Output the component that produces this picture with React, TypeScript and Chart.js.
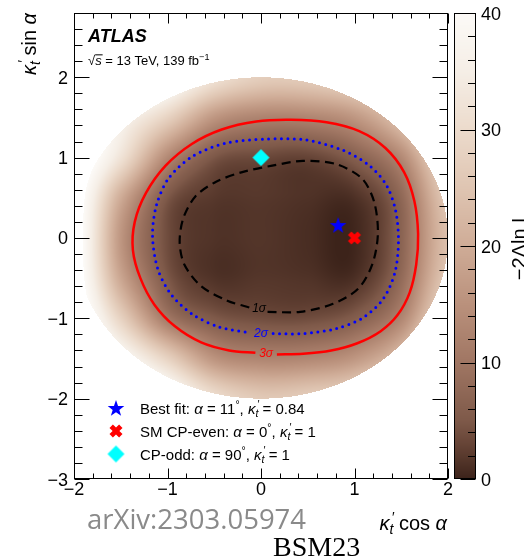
import React, { useEffect, useRef } from "react";
import { Chart, registerables } from "chart.js";

Chart.register(...registerables);

const FONT = '"Liberation Sans", Arial, Helvetica, sans-serif';

// ---- axes ----
const xRange = [-2, 2];
const yRange = [-3, 2.8];
const zRange = [0, 40];
const xTickValues = [-2, -1, 0, 1, 2];
const xTickLabels = ["\u22122", "\u22121", "0", "1", "2"];
const yTickValues = [-3, -2, -1, 0, 1, 2];
const yTickLabels = ["\u22123", "\u22122", "\u22121", "0", "1", "2"];
const zTickValues = [0, 10, 20, 30, 40];
const zTickLabels = ["0", "10", "20", "30", "40"];
const xMinorStep = 0.2;
const yMinorStep = 0.2;
const zMinorStep = 2;

// ---- -2 Delta ln L grid ----
const gridX = [-2, -1.5, -1, -0.5, 0, 0.5, 1, 1.5, 2];
const gridY = [2, 1.5, 1, 0.5, 0, -0.5, -1, -1.5, -2];
const nllRowYp20 = [55, 50, 42, 32, 27, 27, 30, 35, 55];
const nllRowYp15 = [50, 38, 28, 16, 12.5, 12.8, 16, 26, 45];
const nllRowYp10 = [46, 32, 13.5, 4.8, 3.4, 2.9, 6.0, 13.5, 32];
const nllRowYp05 = [44, 20, 5.0, 1.9, 1.8, 1.3, 1.2, 7.5, 26];
const nllRowY00 = [44, 16, 3.8, 1.4, 1.6, 0.9, 0.3, 6.8, 24];
const nllRowYm05 = [44, 19, 5.0, 1.4, 1.7, 1.4, 1.1, 8.0, 26];
const nllRowYm10 = [46, 28, 10.5, 5.2, 3.9, 3.8, 5.8, 13, 32];
const nllRowYm15 = [50, 40, 28, 15.5, 12.8, 13.2, 16, 25, 45];
const nllRowYm20 = [55, 50, 42, 31, 26, 27, 30, 40, 55];
const kappaMax = 2;

// ---- colour palette ----
const paletteValues = [0, 2.5, 5, 10, 15, 20, 25, 30, 35, 40];
const paletteColors = [
  [60, 35, 26], [96, 63, 50], [126, 89, 73], [160, 118, 99], [186, 145, 124],
  [207, 172, 151], [223, 197, 178], [236, 219, 204], [245, 238, 230], [252, 250, 247],
];

// ---- contours (x, y) ----
const contour1Sigma = [
  [0.07, -0.92], [0.42, -0.92], [0.77, -0.82], [1.04, -0.63], [1.19, -0.33], [1.25, 0.05],
  [1.21, 0.45], [1.08, 0.74], [0.8, 0.92], [0.45, 0.96], [0.12, 0.9], [-0.2, 0.82],
  [-0.48, 0.7], [-0.7, 0.52], [-0.83, 0.25], [-0.87, -0.05], [-0.82, -0.33],
  [-0.64, -0.6], [-0.36, -0.78], [-0.11, -0.87],
];
const contour2Sigma = [
  [0.13, -1.19], [0.45, -1.19], [0.8, -1.13], [1.08, -1.0], [1.3, -0.77], [1.43, -0.44],
  [1.47, -0.05], [1.44, 0.34], [1.34, 0.66], [1.16, 0.9], [0.88, 1.09], [0.48, 1.22],
  [0.05, 1.23], [-0.38, 1.18], [-0.74, 1.01], [-0.99, 0.74], [-1.12, 0.4], [-1.16, 0.02],
  [-1.1, -0.4], [-0.95, -0.72], [-0.72, -0.96], [-0.44, -1.11], [-0.13, -1.18],
];
const contour3Sigma = [
  [0.17, -1.45], [0.45, -1.44], [0.75, -1.4], [1.03, -1.31], [1.28, -1.16], [1.46, -0.96],
  [1.59, -0.68], [1.66, -0.33], [1.68, 0.05], [1.64, 0.46], [1.53, 0.82], [1.33, 1.12],
  [1.05, 1.33], [0.7, 1.44], [0.32, 1.47], [-0.05, 1.45], [-0.42, 1.35], [-0.74, 1.17],
  [-1.02, 0.9], [-1.23, 0.56], [-1.35, 0.2], [-1.37, -0.15], [-1.29, -0.5], [-1.14, -0.83],
  [-0.92, -1.1], [-0.64, -1.3], [-0.34, -1.4], [-0.06, -1.43],
];
const contourLabels = ["1\u03c3", "2\u03c3", "3\u03c3"];
const contourLabelX = [-0.02, 0.0, 0.055];
const contourLabelY = [-0.885, -1.19, -1.445];

// ---- points ----
const bestFitPoint = { x: 0.825, y: 0.16 };
const smEvenPoint = { x: 1, y: 0 };
const cpOddPoint = { x: 0, y: 1 };

type Seg = { t: string; it?: boolean; b?: boolean; sub?: boolean; sup?: boolean; noAdv?: boolean; over?: boolean; dx?: number };

const legendRows: Seg[][] = [
  [{ t: "Best fit: " }, { t: "\u03b1", it: true }, { t: " = 11" }, { t: "\u00b0", sup: true }, { t: ", " }, { t: "\u03ba", it: true }, { t: "\u2032", sup: true, noAdv: true, dx: 2 }, { t: "t", sub: true, it: true }, { t: " = 0.84" }],
  [{ t: "SM CP-even: " }, { t: "\u03b1", it: true }, { t: " = 0" }, { t: "\u00b0", sup: true }, { t: ", " }, { t: "\u03ba", it: true }, { t: "\u2032", sup: true, noAdv: true, dx: 2 }, { t: "t", sub: true, it: true }, { t: " = 1" }],
  [{ t: "CP-odd: " }, { t: "\u03b1", it: true }, { t: " = 90" }, { t: "\u00b0", sup: true }, { t: ", " }, { t: "\u03ba", it: true }, { t: "\u2032", sup: true, noAdv: true, dx: 2 }, { t: "t", sub: true, it: true }, { t: " = 1" }],
];

function segFont(s: Seg, size: number) {
  const sz = s.sub || s.sup ? size * 0.7 : size;
  return `${s.it ? "italic " : ""}${s.b ? "bold " : ""}${sz}px ${FONT}`;
}
function drawRich(ctx: CanvasRenderingContext2D, segs: Seg[], x: number, y: number, size: number, color: string, align: string) {
  let w = 0;
  for (const s of segs) {
    ctx.font = segFont(s, size);
    if (!s.noAdv) w += ctx.measureText(s.t).width;
  }
  let cx = align === "left" ? x : align === "right" ? x - w : x - w / 2;
  ctx.fillStyle = color;
  ctx.textAlign = "left";
  ctx.textBaseline = "alphabetic";
  for (const s of segs) {
    ctx.font = segFont(s, size);
    const dy = s.sub ? size * 0.22 : s.sup ? -size * 0.4 : 0;
    const sw = ctx.measureText(s.t).width;
    ctx.fillText(s.t, cx + (s.dx || 0), y + dy);
    if (s.over) ctx.fillRect(cx, y - size * 0.82, sw + 1, 1);
    if (!s.noAdv) cx += sw;
  }
}

function paletteColor(v: number) {
  if (v <= paletteValues[0]) return paletteColors[0];
  for (let i = 1; i < paletteValues.length; i++) {
    if (v <= paletteValues[i]) {
      const t = (v - paletteValues[i - 1]) / (paletteValues[i] - paletteValues[i - 1]);
      const a = paletteColors[i - 1], b = paletteColors[i];
      return [a[0] + (b[0] - a[0]) * t, a[1] + (b[1] - a[1]) * t, a[2] + (b[2] - a[2]) * t];
    }
  }
  return paletteColors[paletteColors.length - 1];
}

function cr(p0: number, p1: number, p2: number, p3: number, t: number) {
  return 0.5 * (2 * p1 + (-p0 + p2) * t + (2 * p0 - 5 * p1 + 4 * p2 - p3) * t * t + (-p0 + 3 * p1 - 3 * p2 + p3) * t * t * t);
}

function makeStar(R: number, r: number, color: string) {
  const c = document.createElement("canvas");
  const s = Math.ceil(2 * R + 2);
  c.width = s; c.height = s;
  const g = c.getContext("2d")!;
  g.translate(s / 2, s / 2 + 0.8);
  g.beginPath();
  for (let i = 0; i < 10; i++) {
    const rad = i % 2 === 0 ? R : r;
    const ang = -Math.PI / 2 + (i * Math.PI) / 5;
    const px = rad * Math.cos(ang), py = rad * Math.sin(ang);
    if (i === 0) g.moveTo(px, py); else g.lineTo(px, py);
  }
  g.closePath();
  g.fillStyle = color;
  g.fill();
  return c;
}
function makeX(L: number, hw: number, color: string) {
  const c = document.createElement("canvas");
  const s = Math.ceil(2 * L + 4);
  c.width = s; c.height = s;
  const g = c.getContext("2d")!;
  g.translate(s / 2, s / 2);
  g.rotate(Math.PI / 4);
  g.beginPath();
  const pts = [[-hw, -L], [hw, -L], [hw, -hw], [L, -hw], [L, hw], [hw, hw], [hw, L], [-hw, L], [-hw, hw], [-L, hw], [-L, -hw], [-hw, -hw]];
  pts.forEach(([px, py], i) => (i === 0 ? g.moveTo(px, py) : g.lineTo(px, py)));
  g.closePath();
  g.fillStyle = color;
  g.fill();
  return c;
}
function makeDiamond(h: number, color: string) {
  const c = document.createElement("canvas");
  const s = Math.ceil(2 * h + 2);
  c.width = s; c.height = s;
  const g = c.getContext("2d")!;
  g.translate(s / 2, s / 2);
  g.beginPath();
  g.moveTo(0, -h); g.lineTo(h, 0); g.lineTo(0, h); g.lineTo(-h, 0);
  g.closePath();
  g.fillStyle = color;
  g.fill();
  return c;
}

export default function App() {
  const ref = useRef<HTMLCanvasElement | null>(null);

  useEffect(() => {
    document.body.style.margin = "0";
    const canvas = ref.current;
    if (!canvas) return;

    const nllGrid = [nllRowYp20, nllRowYp15, nllRowYp10, nllRowYp05, nllRowY00, nllRowYm05, nllRowYm10, nllRowYm15, nllRowYm20];
    const nx = gridX.length, ny = gridY.length;
    const clampI = (k: number, n: number) => Math.max(0, Math.min(n - 1, k));
    const sample = (X: number, Y: number) => {
      const fx = (X - gridX[0]) / (gridX[1] - gridX[0]);
      const fy = (Y - gridY[0]) / (gridY[1] - gridY[0]);
      const ix = Math.floor(fx), iy = Math.floor(fy);
      const tx = fx - ix, ty = fy - iy;
      const rows: number[] = [];
      for (let m = -1; m <= 2; m++) {
        const r = nllGrid[clampI(iy + m, ny)];
        rows.push(cr(r[clampI(ix - 1, nx)], r[clampI(ix, nx)], r[clampI(ix + 1, nx)], r[clampI(ix + 2, nx)], tx));
      }
      return Math.max(0, cr(rows[0], rows[1], rows[2], rows[3], ty));
    };

    const star = makeStar(8.7, 3.5, "#0000ff");
    const xMark = makeX(6.8, 2.4, "#ff0000");
    const diamond = makeDiamond(8.5, "#00ffff");

    const heatmap = {
      id: "heatmap",
      beforeDatasetsDraw(chart: any) {
        const { ctx, chartArea: a, scales } = chart;
        const xs = scales.x, ys = scales.y;
        const w = Math.round(a.right - a.left), h = Math.round(a.bottom - a.top);
        const off = document.createElement("canvas");
        off.width = w; off.height = h;
        const octx = off.getContext("2d")!;
        const img = octx.createImageData(w, h);
        for (let j = 0; j < h; j++) {
          const Y = ys.getValueForPixel(a.top + j + 0.5);
          for (let i = 0; i < w; i++) {
            const X = xs.getValueForPixel(a.left + i + 0.5);
            if (X * X + Y * Y > kappaMax * kappaMax) continue;
            const v = sample(X, Y);
            if (v > zRange[1]) continue;
            const c = paletteColor(v);
            const k = (j * w + i) * 4;
            img.data[k] = c[0]; img.data[k + 1] = c[1]; img.data[k + 2] = c[2]; img.data[k + 3] = 255;
          }
        }
        octx.putImageData(img, 0, 0);
        ctx.drawImage(off, a.left, a.top);
      },
      afterDatasetsDraw(chart: any) {
        const { ctx, scales } = chart;
        const colors = ["#000000", "#0000ff", "#ff0000"];
        ctx.save();
        ctx.font = `italic 12px ${FONT}`;
        ctx.textAlign = "center";
        ctx.textBaseline = "middle";
        for (let i = 0; i < 3; i++) {
          ctx.fillStyle = colors[i];
          ctx.fillText(contourLabels[i], scales.x.getPixelForValue(contourLabelX[i]), scales.y.getPixelForValue(contourLabelY[i]));
        }
        ctx.restore();
      },
      afterDraw(chart: any) {
        const { ctx, chartArea: a, scales } = chart;
        const xs = scales.x, ys = scales.y;
        ctx.save();
        ctx.strokeStyle = "#000";
        ctx.lineWidth = 1;
        const L = Math.round(a.left) + 0.5, R = Math.round(a.right) - 0.5;
        const T = Math.round(a.top) + 0.5, B = Math.round(a.bottom) - 0.5;
        ctx.strokeRect(L, T, R - L, B - T);
        ctx.beginPath();
        for (let v = xRange[0]; v <= xRange[1] + 1e-6; v += xMinorStep) {
          const major = Math.abs(v - Math.round(v)) < 1e-6;
          const px = Math.round(xs.getPixelForValue(v)) + 0.5;
          const len = major ? 10 : 5;
          ctx.moveTo(px, B); ctx.lineTo(px, B - len);
          ctx.moveTo(px, T); ctx.lineTo(px, T + len);
        }
        for (let v = yRange[0]; v <= yRange[1] + 1e-6; v += yMinorStep) {
          const major = Math.abs(v - Math.round(v)) < 1e-6;
          const py = Math.round(ys.getPixelForValue(v)) + 0.5;
          const len = major ? 15 : 8;
          ctx.moveTo(L, py); ctx.lineTo(L + len, py);
          ctx.moveTo(R, py); ctx.lineTo(R - len, py);
        }
        ctx.stroke();

        ctx.fillStyle = "#000";
        ctx.font = `18px ${FONT}`;
        ctx.textAlign = "center";
        ctx.textBaseline = "alphabetic";
        xTickValues.forEach((v, i) => ctx.fillText(xTickLabels[i], xs.getPixelForValue(v), a.bottom + 16));
        ctx.textAlign = "right";
        yTickValues.forEach((v, i) => ctx.fillText(yTickLabels[i], a.left - 6, ys.getPixelForValue(v) + 6.5));

        // colour bar
        const cbL = 454, cbR = 476;
        const zPix = (v: number) => a.bottom - ((v - zRange[0]) / (zRange[1] - zRange[0])) * (a.bottom - a.top);
        for (let py = Math.round(a.top); py < Math.round(a.bottom); py++) {
          const v = zRange[0] + ((a.bottom - (py + 0.5)) / (a.bottom - a.top)) * (zRange[1] - zRange[0]);
          const c = paletteColor(v);
          ctx.fillStyle = `rgb(${c[0]},${c[1]},${c[2]})`;
          ctx.fillRect(cbL, py, cbR - cbL, 1);
        }
        ctx.strokeRect(cbL + 0.5, T, cbR - cbL - 1, B - T);
        ctx.beginPath();
        for (let v = zRange[0]; v <= zRange[1] + 1e-6; v += zMinorStep) {
          const major = Math.abs(v / 10 - Math.round(v / 10)) < 1e-6;
          const py = Math.round(zPix(v)) + 0.5;
          ctx.moveTo(cbR - 0.5, py); ctx.lineTo(cbR - 0.5 - (major ? 15 : 7.5), py);
        }
        ctx.stroke();
        ctx.fillStyle = "#000";
        ctx.font = `18px ${FONT}`;
        ctx.textAlign = "left";
        zTickValues.forEach((v, i) => ctx.fillText(zTickLabels[i], 481, zPix(v) + 6.5));

        ctx.save();
        ctx.translate(510, a.top + (a.bottom - a.top) / 2);
        ctx.rotate(-Math.PI / 2);
        ctx.textAlign = "center";
        ctx.textBaseline = "top";
        ctx.font = `20px ${FONT}`;
        ctx.fillText("\u22122\u0394ln L", 0, 0);
        ctx.restore();

        drawRich(ctx, [{ t: "\u03ba", it: true }, { t: "\u2032", sup: true, noAdv: true, dx: 2.5 }, { t: "t", sub: true, it: true }, { t: " cos " }, { t: "\u03b1", it: true }], 447, 530, 20, "#000", "right");
        ctx.save();
        ctx.translate(36, a.top);
        ctx.rotate(-Math.PI / 2);
        drawRich(ctx, [{ t: "\u03ba", it: true }, { t: "\u2032", sup: true, noAdv: true, dx: 2.5 }, { t: "t", sub: true, it: true }, { t: " sin " }, { t: "\u03b1", it: true }], 0, 0, 20, "#000", "right");
        ctx.restore();

        drawRich(ctx, [{ t: "ATLAS", it: true, b: true }], 88, 42, 18, "#000", "left");
        drawRich(ctx, [{ t: "\u221a" }, { t: "s", it: true, over: true }, { t: " = 13 TeV, 139 fb" }, { t: "\u22121", sup: true }], 88, 65, 13, "#000", "left");

        const marks = [star, xMark, diamond];
        const rowY = [408, 431, 454];
        for (let i = 0; i < 3; i++) {
          const m = marks[i];
          ctx.drawImage(m, 116 - m.width / 2, rowY[i] - m.height / 2);
          drawRich(ctx, legendRows[i], 140, rowY[i] + 5.5, 15, "#000", "left");
        }

        ctx.font = `27.5px "Open Sans", ${FONT}`;
        ctx.fillStyle = "#8a8a8a";
        ctx.textAlign = "left";
        ctx.textBaseline = "alphabetic";
        ctx.fillText("arXiv:2303.05974", 87, 529);
        ctx.font = `28px "Liberation Serif", "Times New Roman", serif`;
        ctx.fillStyle = "#000";
        ctx.fillText("BSM23", 273, 556);
        ctx.restore();
      },
    };

    const toXY = (arr: number[][]) => arr.map(([x, y]) => ({ x, y }));

    const chart = new Chart(canvas, {
      type: "scatter",
      data: {
        datasets: [
          { label: "Best fit", data: [bestFitPoint], pointStyle: star as any, pointRadius: 8, showLine: false },
          { label: "SM CP-even", data: [smEvenPoint], pointStyle: xMark as any, pointRadius: 8, showLine: false },
          { label: "CP-odd", data: [cpOddPoint], pointStyle: diamond as any, pointRadius: 8, showLine: false },
          { label: "1 sigma", data: toXY(contour1Sigma), showLine: true, borderColor: "#000000", borderWidth: 2.2, borderDash: [9, 5.5], pointRadius: 0, tension: 0.3, fill: false },
          { label: "2 sigma", data: toXY(contour2Sigma), showLine: true, borderColor: "#0000ff", borderWidth: 3, borderDash: [0, 6.4], borderCapStyle: "round", pointRadius: 0, tension: 0.3, fill: false },
          { label: "3 sigma", data: toXY(contour3Sigma), showLine: true, borderColor: "#ff0000", borderWidth: 2.5, pointRadius: 0, tension: 0.3, fill: false },
        ] as any,
      },
      options: {
        responsive: false,
        animation: false,
        events: [],
        devicePixelRatio: 1,
        layout: { padding: { left: 74, top: 13, right: 76, bottom: 80 } },
        plugins: { legend: { display: false }, tooltip: { enabled: false } },
        scales: {
          x: { type: "linear", min: xRange[0], max: xRange[1], display: false },
          y: { type: "linear", min: yRange[0], max: yRange[1], display: false },
        },
      },
      plugins: [heatmap],
    });
    return () => chart.destroy();
  }, []);

  return <canvas ref={ref} width={524} height={559} style={{ display: "block" }} />;
}
